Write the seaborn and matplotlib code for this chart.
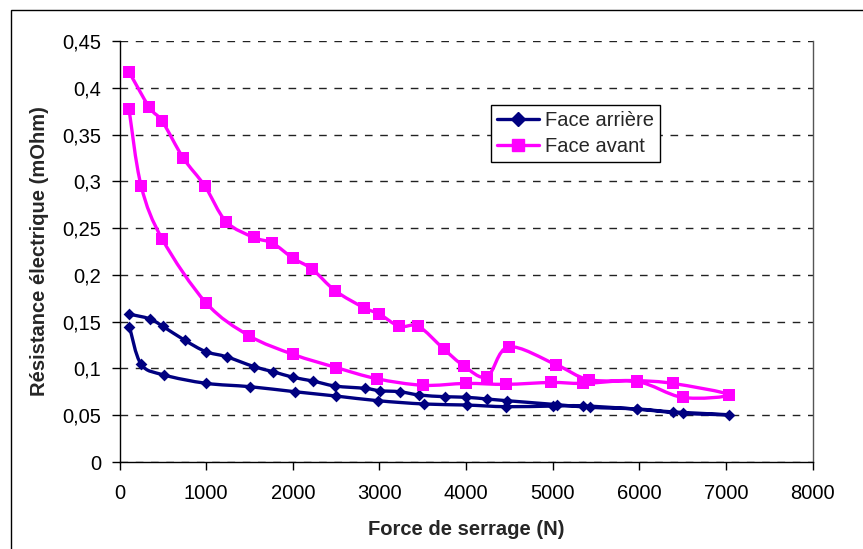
import numpy as np
import pandas as pd
import matplotlib
matplotlib.use("Agg")
import matplotlib.pyplot as plt
from matplotlib.path import Path
from matplotlib.patches import PathPatch, Rectangle
from matplotlib.lines import Line2D
from matplotlib.ticker import FuncFormatter
import seaborn as sns

# Face arrière : montée puis descente de la force
arriere_force_load = [115, 350, 500, 755, 995, 1235, 1550, 1775, 2005, 2230, 2490, 2835,
                      3005, 3235, 3460, 3755, 4000, 4245, 4475, 5050, 5435, 5970, 6390, 7035]
arriere_res_load = [0.158, 0.153, 0.145, 0.130, 0.118, 0.1125, 0.102, 0.0965, 0.0905, 0.0866,
                    0.0812, 0.0787, 0.0762, 0.0751, 0.0716, 0.0698, 0.0692, 0.0673, 0.0655,
                    0.0613, 0.0584, 0.0567, 0.0535, 0.0505]
arriere_force_unload = [6505, 5970, 5345, 5000, 4460, 4005, 3515, 2985, 2500, 2025, 1505,
                        1000, 515, 250, 115]
arriere_res_unload = [0.052, 0.0565, 0.060, 0.0598, 0.0591, 0.0609, 0.062, 0.0655, 0.0705,
                      0.0751, 0.0805, 0.0841, 0.093, 0.1044, 0.1446]

# Face avant
avant_force_load = [110, 345, 495, 735, 985, 1230, 1550, 1765, 2000, 2225, 2490, 2820,
                    3000, 3230, 3450, 3740, 3970, 4240, 4490, 5040, 5420, 5970, 6385, 7030]
avant_res_load = [0.417, 0.379, 0.364, 0.325, 0.295, 0.257, 0.240, 0.234, 0.218, 0.206,
                  0.183, 0.165, 0.158, 0.145, 0.145, 0.121, 0.103, 0.091, 0.123, 0.104,
                  0.088, 0.087, 0.084, 0.072]
avant_force_unload = [6500, 5970, 5350, 4980, 4460, 4000, 3505, 2970, 2500, 2005, 1495,
                      1000, 495, 250, 110]
avant_res_unload = [0.069, 0.086, 0.084, 0.085, 0.083, 0.084, 0.082, 0.089, 0.101, 0.115,
                    0.135, 0.170, 0.238, 0.295, 0.377]

series_names = ["Face arrière", "Face avant"]
colors = {"Face arrière": "#000080", "Face avant": "#FF00FF"}
markers = {"Face arrière": "D", "Face avant": "s"}
sizes = {"Face arrière": 36, "Face avant": 72}


def smooth_path(x, y):
    # courbe lissée façon Excel (Bezier passant par chaque point)
    pts = np.column_stack([x, y]).astype(float)
    n = len(pts)
    verts = [pts[0]]
    codes = [Path.MOVETO]
    for i in range(n - 1):
        p0 = pts[max(i - 1, 0)]
        p1 = pts[i]
        p2 = pts[i + 1]
        p3 = pts[min(i + 2, n - 1)]
        verts += [p1 + (p2 - p0) / 6, p2 - (p3 - p1) / 6, p2]
        codes += [Path.CURVE4] * 3
    return Path(verts, codes)


df = pd.concat([
    pd.DataFrame({"force": arriere_force_load + arriere_force_unload,
                  "res": arriere_res_load + arriere_res_unload,
                  "face": "Face arrière"}),
    pd.DataFrame({"force": avant_force_load + avant_force_unload,
                  "res": avant_res_load + avant_res_unload,
                  "face": "Face avant"}),
], ignore_index=True)

sns.set_theme(style="white")
plt.rcParams["font.family"] = ["Liberation Sans", "DejaVu Sans"]

fig = plt.figure(figsize=(8.63, 5.49), dpi=100)
ax = fig.add_axes([119.5 / 863, 1 - 462 / 549, 693.2 / 863, 421 / 549])

# cadre du graphique
fig.patches.append(Rectangle((11 / 863, -0.1), 1.2, 1.1 - 10 / 549, transform=fig.transFigure,
                             fill=False, ec="black", lw=1))

for k, name in enumerate(series_names):
    sub = df[df["face"] == name]
    ax.add_patch(PathPatch(smooth_path(sub["force"], sub["res"]), fill=False,
                           ec=colors[name], lw=2.4, zorder=3 + 2 * k, capstyle="round",
                           joinstyle="round"))
    sns.scatterplot(data=sub, x="force", y="res", marker=markers[name], color=colors[name],
                    s=sizes[name], linewidth=0, ax=ax, zorder=4 + 2 * k, legend=False)

ax.set_xlim(0, 8000)
ax.set_ylim(0, 0.45)
ax.set_xticks(np.arange(0, 8001, 1000))
ax.set_yticks(np.arange(0, 0.4501, 0.05))
ax.yaxis.set_major_formatter(FuncFormatter(
    lambda v, p: ("%.2f" % v).rstrip("0").rstrip(".").replace(".", ",") if v else "0"))

ax.yaxis.grid(True, linestyle=(0, (5.5, 5.5)), color="#222222", lw=1)
ax.xaxis.grid(False)
ax.set_axisbelow(True)
ax.spines["top"].set_visible(False)
for s in ["left", "bottom"]:
    ax.spines[s].set_color("black")
    ax.spines[s].set_linewidth(1)
ax.spines["right"].set_color("#555555")
ax.spines["right"].set_linewidth(1)

ax.tick_params(axis="both", direction="out", length=6, width=1, color="black",
               labelsize=14.5, labelcolor="black", bottom=True, left=True)
ax.tick_params(axis="x", pad=10)
ax.tick_params(axis="y", pad=7)

ax.set_xlabel("Force de serrage (N)", fontsize=14.5, fontweight="bold", labelpad=12)
ax.set_ylabel("Résistance électrique (mOhm)", fontsize=14.5, fontweight="bold", labelpad=10)

handles = [Line2D([0], [0], color=colors[n], lw=2.4, marker=markers[n],
                  markersize=7 if n == "Face arrière" else 9) for n in series_names]
leg = ax.legend(handles, series_names, loc="upper left", bbox_to_anchor=(0.536, 0.848),
                borderaxespad=0, fontsize=14.5, frameon=True, fancybox=False,
                edgecolor="black", framealpha=1, handlelength=2.1, handletextpad=0.3,
                labelspacing=0.35, borderpad=0.3)
leg.get_frame().set_linewidth(1)

fig.savefig("out.png", dpi=100)
